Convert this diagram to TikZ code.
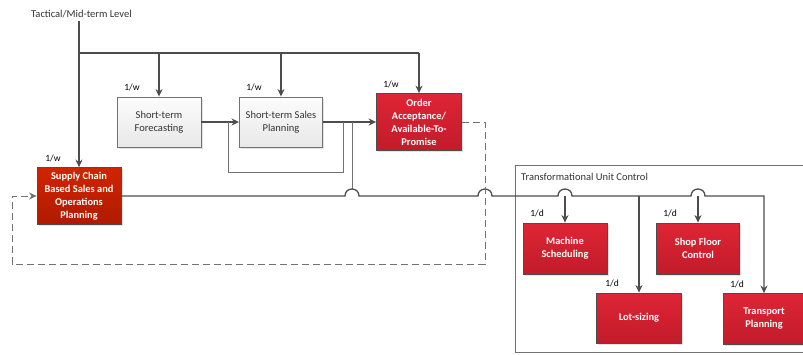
\documentclass[tikz,border=0pt]{standalone}
\usepackage{fontspec}
\setmainfont{Carlito}
\usetikzlibrary{arrows.meta,shadows}
\definecolor{lc}{HTML}{4D4D4D}
\definecolor{lc2}{HTML}{727272}
\definecolor{redtop}{HTML}{DE2535}
\definecolor{redbot}{HTML}{C21B2A}
\definecolor{sctop}{HTML}{D02400}
\definecolor{scbot}{HTML}{B01A00}
\definecolor{gtop}{HTML}{FCFCFC}
\definecolor{gbot}{HTML}{E8E8E8}
\definecolor{txt}{HTML}{333333}
\tikzset{
  boxbase/.style={rectangle, align=center, inner sep=2pt,
    drop shadow={opacity=0.22, shadow xshift=1.5pt, shadow yshift=-1.5pt},
    font=\fontsize{10.5}{13}\selectfont},
  gbox/.style={boxbase, draw=lc2, line width=0.9pt, top color=gtop, bottom color=gbot, text=txt},
  rbox/.style={boxbase, draw=lc, line width=0.8pt, top color=redtop, bottom color=redbot,
    text=white, font=\fontsize{10.4}{13}\selectfont\bfseries},
  scbox/.style={rbox, top color=sctop, bottom color=scbot},
  lbl/.style={font=\fontsize{9.5}{11}\selectfont, text=black, inner sep=0pt},
  conn/.style={draw=lc, line width=1.3pt},
  loopline/.style={draw=lc2, line width=1pt},
  fbdash/.style={draw=lc2, line width=1pt, dash pattern=on 7pt off 4pt},
  arr/.style={-{Stealth[length=7.5pt,width=7pt,inset=2.4pt]}},
  frame/.style={draw=lc2, line width=0.9pt},
}
\begin{document}
\begin{tikzpicture}[x=1pt,y=-1pt]
\useasboundingbox (0,0) rectangle (803,354);
\clip (0,0) rectangle (803,354);

% control-unit frame
\draw[frame] (515,165) rectangle (812,352);
\node[anchor=west, font=\fontsize{10.5}{12}\selectfont, text=txt, inner sep=0pt] (tuc) at (521,177) {Transformational Unit Control};

% level caption
\node[anchor=west, font=\fontsize{10.5}{12}\selectfont, text=txt, inner sep=0pt] (lvlt) at (31,14) {Tactical/Mid-term Level};

% planning boxes
\node[gbox, minimum width=84pt, minimum height=50pt] (fc) at (159,122) {Short-term\\Forecasting};
\node[gbox, minimum width=83pt, minimum height=50pt] (sp) at (281,122) {Short-term Sales\\Planning};
\node[rbox, minimum width=85pt, minimum height=57pt] (oa) at (419,122) {Order\\Acceptance/\\Available-To-\\Promise};
\node[scbox, minimum width=84pt, minimum height=57pt] (sc) at (79,196) {Supply Chain\\Based Sales and\\Operations\\Planning};

% execution boxes
\node[rbox, minimum width=84pt, minimum height=51pt] (ms) at (565,248.5) {Machine\\Scheduling};
\node[rbox, minimum width=83pt, minimum height=51pt] (sf) at (698,248.5) {Shop Floor\\Control};
\node[rbox, minimum width=85pt, minimum height=50pt] (ls) at (639,318) {Lot-sizing};
\node[rbox, minimum width=82pt, minimum height=51pt] (tp) at (764,319) {Transport\\Planning};

% frequency labels
\node[lbl] (fcf) at (132,87) {1/w};
\node[lbl] (spf) at (254,87) {1/w};
\node[lbl] (oaf) at (391,84) {1/w};
\node[lbl] (scf) at (53,158) {1/w};
\node[lbl] (msf) at (537,213) {1/d};
\node[lbl] (sff) at (670,213) {1/d};
\node[lbl] (lsf) at (612,283) {1/d};
\node[lbl] (tpf) at (737,284) {1/d};

% tactical bus
\coordinate (lvl) at (79,21);
\coordinate (bus) at (79,53);
\draw[conn,arr] (lvl) -- (sc.north);
\draw[conn] (bus) -- (oa.north |- bus);
\draw[conn,arr] (fc.north |- bus) -- (fc.north);
\draw[conn,arr] (sp.north |- bus) -- (sp.north);
\draw[conn,arr] (oa.north |- bus) -- (oa.north);

% short-term chain
\draw[conn,arr] (fc.east) -- (sp.west);
\draw[conn,arr] (sp.east) -- (oa.west);
\coordinate (fbA) at (343,122);
\coordinate (fbB) at (228,122);
\draw[loopline] (fbA) -- (343,172) -- (228,172) -- (fbB);
\coordinate (upA) at (352,122);
\coordinate (upB) at (352,189);
\draw[loopline] (upA) -- (upB);

% main distribution line with line jumps
\coordinate (tpc) at (764,196);
\draw[conn,arr] (sc.east) -- (345,196)
  .. controls (345,186.7) and (359,186.7) .. (359,196) -- (478,196)
  .. controls (478,186.7) and (492,186.7) .. (492,196) -- (558,196)
  .. controls (558,186.7) and (572,186.7) .. (572,196) -- (691,196)
  .. controls (691,186.7) and (705,186.7) .. (705,196) -- (tpc) -- (tp.north);
\draw[conn,arr] (ms.north |- tpc) -- (ms.north);
\draw[conn,arr] (ls.north |- tpc) -- (ls.north);
\draw[conn,arr] (sf.north |- tpc) -- (sf.north);

% feedback to S&OP
\coordinate (d1) at (485,122);
\coordinate (d2) at (485,264);
\coordinate (d3) at (12,264);
\coordinate (d4) at (12,196);
\draw[fbdash,arr] (oa.east) -- (d1) -- (d2) -- (d3) -- (d4) -- (sc.west);
\end{tikzpicture}
\end{document}
